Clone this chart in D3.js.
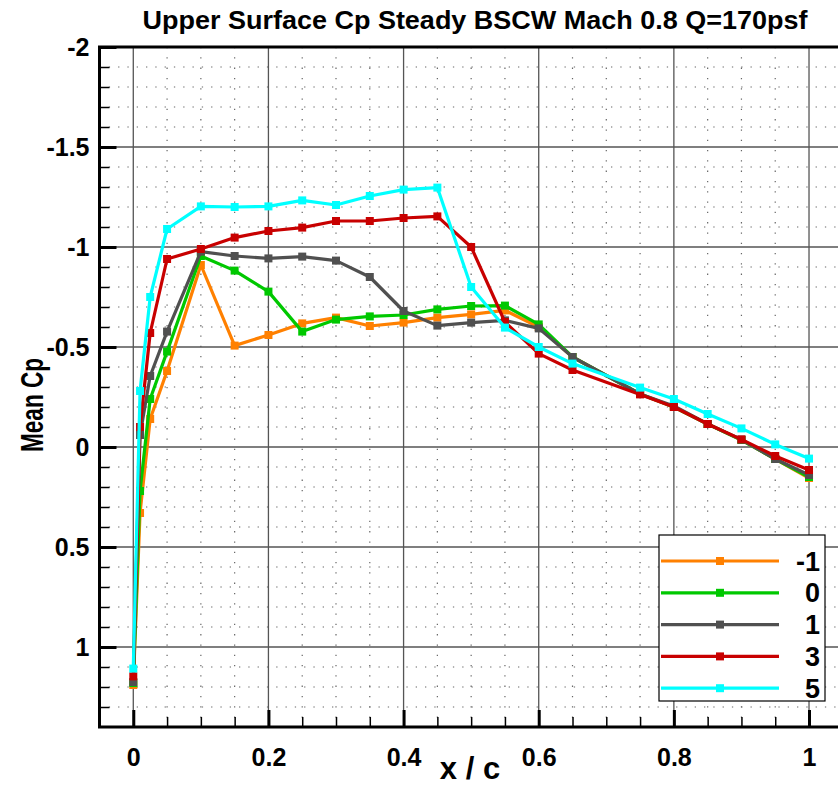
<!DOCTYPE html>
<html>
<head>
<meta charset="utf-8">
<script src="https://cdn.jsdelivr.net/npm/d3@7"></script>
<style>
  html, body { margin: 0; padding: 0; background: #fff; }
  svg { display: block; font-family: "Liberation Sans", Arial, sans-serif; font-weight: bold; }
</style>
</head>
<body>
<svg id="chart" width="838" height="785"></svg>
<script>
(function () {
    'use strict';

    // x/c stations on the upper surface
    var xc = [0, 0.01, 0.025, 0.05, 0.1, 0.15, 0.2, 0.25, 0.3, 0.35, 0.4, 0.45,
              0.5, 0.55, 0.6, 0.65, 0.75, 0.8, 0.85, 0.9, 0.95, 1.0];

    // mean Cp per angle of attack
    var cpM1 = [1.19, 0.33, -0.14, -0.38, -0.91, -0.507, -0.56, -0.618, -0.647, -0.605, -0.622, -0.647,
                -0.663, -0.683, -0.60, -0.45, -0.265, -0.2, -0.115, -0.035, 0.06, 0.155];
    var cp0 = [1.18, 0.22, -0.24, -0.477, -0.955, -0.882, -0.777, -0.577, -0.637, -0.653, -0.66, -0.688,
               -0.705, -0.707, -0.613, -0.45, -0.265, -0.2, -0.115, -0.035, 0.06, 0.15];
    var cp1 = [1.175, -0.06, -0.355, -0.577, -0.977, -0.955, -0.943, -0.952, -0.932, -0.85, -0.68, -0.607,
               -0.622, -0.633, -0.593, -0.45, -0.265, -0.205, -0.115, -0.037, 0.06, 0.14];
    var cp3 = [1.147, -0.1, -0.57, -0.94, -0.99, -1.047, -1.08, -1.097, -1.13, -1.13, -1.145, -1.153,
               -1.0, -0.625, -0.467, -0.385, -0.263, -0.2, -0.115, -0.038, 0.045, 0.115];
    var cp5 = [1.108, -0.28, -0.75, -1.09, -1.203, -1.2, -1.203, -1.233, -1.21, -1.255, -1.287, -1.297,
               -0.80, -0.597, -0.50, -0.417, -0.297, -0.24, -0.165, -0.093, -0.013, 0.058];

    var seriesNames = ['-1', '0', '1', '3', '5'];
    var seriesValues = [cpM1, cp0, cp1, cp3, cp5];
    var seriesColors = ['#ff8000', '#00c800', '#505050', '#c80000', '#00ffff'];

    var xMajor = [0, 0.2, 0.4, 0.6, 0.8, 1];
    var yMajor = [-2, -1.5, -1, -0.5, 0, 0.5, 1];

    var left = 99.5, right = 842.8, top = 47, bottom = 727;

    var svg = d3.select('#chart');
    var x = d3.scaleLinear().domain([-0.05, 1.05]).range([left, right]);
    var y = d3.scaleLinear().domain([-2, 1.4]).range([top, bottom]);

    function steps(start, stop, step) {
        var out = [];
        var n = Math.round((stop - start) / step);
        for (var i = 0; i <= n; i++) {
            out.push(+(start + i * step).toFixed(4));
        }
        return out;
    }

    function isMajor(v, step) {
        return Math.abs(v / step - Math.round(v / step)) < 1e-6;
    }

    var xMinor = steps(0.05, 1.0, 0.05).filter(function (v) { return !isMajor(v, 0.2); });
    var yMinor = steps(-1.9, 1.3, 0.1).filter(function (v) { return !isMajor(v, 0.5); });

    // dotted minor grid
    var grid = svg.append('g');
    grid.selectAll('line.vmin').data(xMinor).enter().append('line')
        .attr('x1', function (d) { return x(d); }).attr('x2', function (d) { return x(d); })
        .attr('y1', top).attr('y2', bottom)
        .attr('stroke', '#666').attr('stroke-width', 1.2).attr('stroke-dasharray', '1.3 9');
    grid.selectAll('line.hmin').data(yMinor).enter().append('line')
        .attr('y1', function (d) { return y(d); }).attr('y2', function (d) { return y(d); })
        .attr('x1', left).attr('x2', right)
        .attr('stroke', '#666').attr('stroke-width', 1.2).attr('stroke-dasharray', '1.3 8');

    // solid major grid
    grid.selectAll('line.vmaj').data(xMajor).enter().append('line')
        .attr('x1', function (d) { return x(d); }).attr('x2', function (d) { return x(d); })
        .attr('y1', top).attr('y2', bottom)
        .attr('stroke', '#555').attr('stroke-width', 1.3);
    grid.selectAll('line.hmaj').data(yMajor.slice(1)).enter().append('line')
        .attr('y1', function (d) { return y(d); }).attr('y2', function (d) { return y(d); })
        .attr('x1', left).attr('x2', right)
        .attr('stroke', '#555').attr('stroke-width', 1.3);

    // axes with inward ticks
    var fmt = function (d) { return String(d); };
    var yAxis = svg.append('g').attr('transform', 'translate(' + left + ',0)')
        .call(d3.axisLeft(y).tickValues(yMajor).tickFormat(fmt).tickSize(-17).tickPadding(10));
    svg.append('g').attr('transform', 'translate(' + left + ',0)')
        .call(d3.axisLeft(y).tickValues(yMinor).tickFormat('').tickSize(-10))
        .call(function (g) { g.select('.domain').remove(); g.selectAll('line').attr('stroke-width', 1.5); });
    var xAxis = svg.append('g').attr('transform', 'translate(0,' + bottom + ')')
        .call(d3.axisBottom(x).tickValues(xMajor).tickFormat(fmt).tickSize(-17).tickPadding(21));
    svg.append('g').attr('transform', 'translate(0,' + bottom + ')')
        .call(d3.axisBottom(x).tickValues(xMinor).tickFormat('').tickSize(-10))
        .call(function (g) { g.select('.domain').remove(); g.selectAll('line').attr('stroke-width', 1.5); });

    [yAxis, xAxis].forEach(function (g) {
        g.select('.domain').remove();
        g.selectAll('line').attr('stroke', '#000').attr('stroke-width', 3);
        g.selectAll('text').attr('fill', '#000').style('font-size', '25px').style('font-weight', 'bold')
            .style('font-family', '"Liberation Sans", Arial, sans-serif');
    });

    // frame
    svg.append('path')
        .attr('d', 'M' + right + ',' + top + 'H' + left + 'V' + bottom + 'H' + right)
        .attr('fill', 'none').attr('stroke', '#000').attr('stroke-width', 3);

    // series
    var line = d3.line()
        .x(function (d) { return x(d[0]); })
        .y(function (d) { return y(d[1]); });

    seriesValues.forEach(function (vals, i) {
        var pts = xc.map(function (v, j) { return [v, vals[j]]; });
        var g = svg.append('g');
        g.append('path').datum(pts).attr('d', line)
            .attr('fill', 'none').attr('stroke', seriesColors[i]).attr('stroke-width', 3.2)
            .attr('stroke-linejoin', 'round');
        g.selectAll('rect').data(pts).enter().append('rect')
            .attr('x', function (d) { return x(d[0]) - 4; })
            .attr('y', function (d) { return y(d[1]) - 4; })
            .attr('width', 8).attr('height', 8)
            .attr('fill', seriesColors[i]);
    });

    // legend
    var lg = svg.append('g').attr('transform', 'translate(659,535)');
    lg.append('rect').attr('width', 166).attr('height', 166)
        .attr('fill', '#fff').attr('stroke', '#000').attr('stroke-width', 1.2);
    seriesNames.forEach(function (name, i) {
        var ly = 26 + i * 31.8;
        lg.append('line').attr('x1', 2).attr('x2', 120).attr('y1', ly).attr('y2', ly)
            .attr('stroke', seriesColors[i]).attr('stroke-width', 3.2);
        lg.append('rect').attr('x', 61 - 4).attr('y', ly - 4).attr('width', 8).attr('height', 8)
            .attr('fill', seriesColors[i]);
        lg.append('text').attr('x', 161).attr('y', ly + 9.5).attr('text-anchor', 'end')
            .style('font-size', '27px').text(name);
    });

    // titles
    svg.append('text').attr('x', 475).attr('y', 29).attr('text-anchor', 'middle')
        .attr('textLength', 665).attr('lengthAdjust', 'spacingAndGlyphs')
        .style('font-size', '25px').text('Upper Surface Cp Steady BSCW Mach 0.8 Q=170psf');
    svg.append('text').attr('x', 470).attr('y', 779).attr('text-anchor', 'middle')
        .style('font-size', '31px').text('x / c');
    svg.append('text').attr('transform', 'translate(43,405) rotate(-90)').attr('text-anchor', 'middle')
        .attr('textLength', 94).attr('lengthAdjust', 'spacingAndGlyphs')
        .style('font-size', '31px').text('Mean Cp');
}());
</script>
</body>
</html>
